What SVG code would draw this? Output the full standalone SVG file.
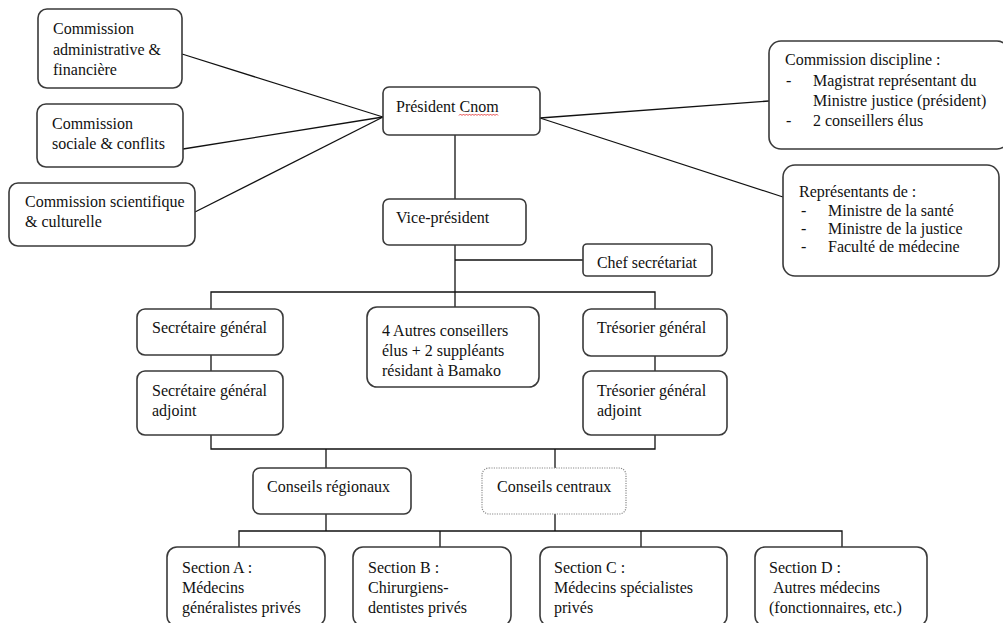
<svg xmlns="http://www.w3.org/2000/svg" width="1003" height="623" viewBox="0 0 1003 623">
<style>
.box{fill:#fff;stroke:#3a3a3a;stroke-width:1.6}
.dot{fill:#fff;stroke:#8a8a8a;stroke-width:1.2;stroke-dasharray:1.2 1.2}
.ln{stroke:#111;stroke-width:1.3;fill:none}
text{font-family:"Liberation Serif","Times New Roman",serif;font-size:16px;fill:#111}
</style>
<rect width="1003" height="623" fill="#fff"/>
<g id="connectors">
<line class="ln" x1="182" y1="54" x2="383" y2="117"/>
<line class="ln" x1="183" y1="149" x2="383" y2="117"/>
<line class="ln" x1="195" y1="212" x2="383" y2="117"/>
<line class="ln" x1="540" y1="118" x2="769" y2="101"/>
<line class="ln" x1="540" y1="118" x2="783" y2="197"/>
<line class="ln" x1="455" y1="135" x2="455" y2="199"/>
<polyline class="ln" points="455,245 455,292"/>
<line class="ln" x1="455" y1="260" x2="583" y2="260"/>
<polyline class="ln" points="211,309 211,292 655,292 655,309"/>
<line class="ln" x1="455" y1="292" x2="455" y2="307"/>
<line class="ln" x1="211" y1="355" x2="211" y2="371"/>
<line class="ln" x1="655" y1="356" x2="655" y2="371"/>
<polyline class="ln" points="211,435 211,449 655,449 655,435"/>
<line class="ln" x1="326" y1="449" x2="326" y2="468"/>
<line class="ln" x1="555" y1="449" x2="555" y2="468"/>
<line class="ln" x1="326" y1="514" x2="326" y2="531"/>
<line class="ln" x1="555" y1="514" x2="555" y2="531"/>
<polyline class="ln" points="239,547 239,531 842,531 842,547"/>
<line class="ln" x1="440" y1="531" x2="440" y2="547"/>
<line class="ln" x1="641" y1="531" x2="641" y2="547"/>
</g>
<g id="com-admin">
<rect class="box" x="38" y="9" width="144" height="79" rx="9"/>
<text x="53" y="34">Commission</text>
<text x="53" y="55">administrative &amp;</text>
<text x="53" y="75">financière</text>
</g>
<g id="com-sociale">
<rect class="box" x="37" y="104" width="146" height="63" rx="9"/>
<text x="52" y="129">Commission</text>
<text x="52" y="149">sociale &amp; conflits</text>
</g>
<g id="com-scientifique">
<rect class="box" x="9" y="183" width="186" height="63" rx="9"/>
<text x="25" y="207">Commission scientifique</text>
<text x="25" y="227">&amp; culturelle</text>
</g>
<g id="president">
<rect class="box" x="383" y="87" width="157" height="48" rx="6"/>
<text x="396" y="112">Président Cnom</text>
<path d="M459 115.5 l1.5 -1.5 l1.5 1.5 l1.5 -1.5 l1.5 1.5 l1.5 -1.5 l1.5 1.5 l1.5 -1.5 l1.5 1.5 l1.5 -1.5 l1.5 1.5 l1.5 -1.5 l1.5 1.5 l1.5 -1.5 l1.5 1.5 l1.5 -1.5 l1.5 1.5 l1.5 -1.5 l1.5 1.5 l1.5 -1.5 l1.5 1.5 l1.5 -1.5 l1.5 1.5 l1.5 -1.5 l1.5 1.5 l1.5 -1.5 l1.5 1.5" fill="none" stroke="#e02020" stroke-width="0.8"/>
</g>
<g id="com-discipline">
<rect class="box" x="769" y="41" width="240" height="108" rx="12"/>
<text x="785" y="65">Commission discipline  :</text>
<text x="786" y="86">-</text>
<text x="813" y="86">Magistrat  représentant du</text>
<text x="813" y="106">Ministre  justice (président)</text>
<text x="786" y="126">-</text>
<text x="813" y="126">2 conseillers  élus</text>
</g>
<g id="representants">
<rect class="box" x="783" y="165" width="216" height="111" rx="12"/>
<text x="799" y="197">Représentants de :</text>
<text x="801" y="216">-</text>
<text x="828" y="216">Ministre  de la santé</text>
<text x="801" y="234">-</text>
<text x="828" y="234">Ministre  de la justice</text>
<text x="801" y="252">-</text>
<text x="828" y="252">Faculté de médecine</text>
</g>
<g id="vice-president">
<rect class="box" x="383" y="199" width="143" height="46" rx="6"/>
<text x="396" y="223">Vice-président</text>
</g>
<g id="chef-secretariat">
<rect class="box" x="583" y="244" width="129" height="32" rx="4"/>
<text x="597" y="268" textLength="100" lengthAdjust="spacingAndGlyphs">Chef secrétariat</text>
</g>
<g id="secretaire-general">
<rect class="box" x="137" y="309" width="146" height="46" rx="8"/>
<text x="152" y="333">Secrétaire général</text>
</g>
<g id="secretaire-adjoint">
<rect class="box" x="137" y="371" width="146" height="64" rx="8"/>
<text x="152" y="396">Secrétaire général</text>
<text x="152" y="416">adjoint</text>
</g>
<g id="autres-conseillers">
<rect class="box" x="367" y="307" width="172" height="80" rx="10"/>
<text x="382" y="336">4 Autres conseillers</text>
<text x="382" y="356">élus + 2 suppléants</text>
<text x="382" y="376">résidant à Bamako</text>
</g>
<g id="tresorier-general">
<rect class="box" x="583" y="309" width="144" height="47" rx="8"/>
<text x="597" y="333">Trésorier général</text>
</g>
<g id="tresorier-adjoint">
<rect class="box" x="583" y="371" width="144" height="64" rx="8"/>
<text x="597" y="396">Trésorier général</text>
<text x="597" y="416">adjoint</text>
</g>
<g id="conseils-regionaux">
<rect class="box" x="253" y="468" width="158" height="46" rx="7"/>
<text x="267" y="492">Conseils régionaux</text>
</g>
<g id="conseils-centraux">
<rect class="dot" x="482" y="468" width="144" height="46" rx="7"/>
<text x="497" y="492">Conseils centraux</text>
</g>
<g id="section-a">
<rect class="box" x="167" y="547" width="158" height="79" rx="10"/>
<text x="182" y="573">Section A :</text>
<text x="182" y="593">Médecins</text>
<text x="182" y="613">généralistes   privés</text>
</g>
<g id="section-b">
<rect class="box" x="353" y="547" width="158" height="79" rx="10"/>
<text x="368" y="573">Section B :</text>
<text x="368" y="593">Chirurgiens-</text>
<text x="368" y="613">dentistes privés</text>
</g>
<g id="section-c">
<rect class="box" x="540" y="547" width="187" height="79" rx="10"/>
<text x="554" y="573">Section C :</text>
<text x="554" y="593">Médecins spécialistes</text>
<text x="554" y="613">privés</text>
</g>
<g id="section-d">
<rect class="box" x="755" y="547" width="172" height="79" rx="10"/>
<text x="769" y="573">Section D :</text>
<text x="773" y="593">Autres médecins</text>
<text x="769" y="613">(fonctionnaires, etc.)</text>
</g>
</svg>
